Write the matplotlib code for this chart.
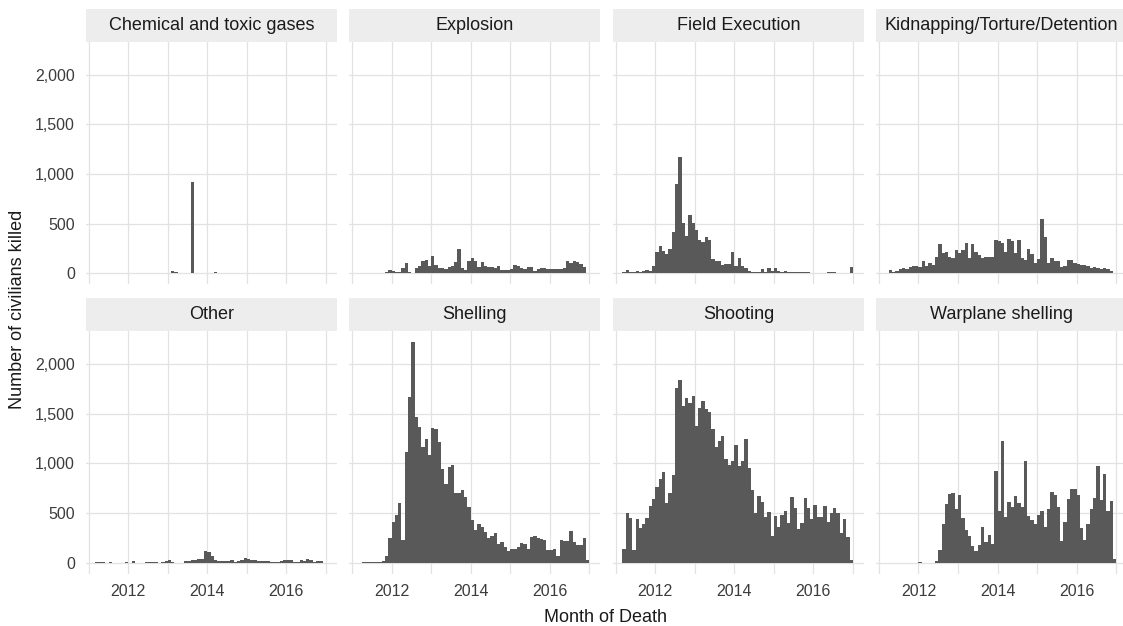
import numpy as np
import pandas as pd
import matplotlib
matplotlib.use('Agg')
import matplotlib.pyplot as plt
from matplotlib.ticker import FuncFormatter, FixedLocator

plt.rcParams['font.family'] = ['Liberation Sans', 'DejaVu Sans']

# monthly civilian deaths, Mar 2011 .. Dec 2016 (70 months)
months = pd.date_range('2011-03-01', periods=70, freq='MS')

chemical = [0, 0, 0, 0, 0, 0, 0, 0, 0, 0,
            0, 0, 0, 0, 0, 0, 0, 0, 0, 0,
            3, 0, 0, 27, 10, 5, 5, 0, 0, 915,
            3, 0, 0, 3, 0, 0, 15, 3, 0, 0,
            5, 5, 0, 3, 5, 3, 0, 0, 3, 0,
            0, 0, 0, 3, 3, 0, 3, 0, 3, 3,
            3, 0, 3, 0, 0, 0, 0, 0, 0, 0]

explosion = [2, 3, 2, 3, 2, 3, 2, 3, 13, 30,
             20, 10, 17, 54, 107, 17, 7, 50, 70, 120,
             137, 74, 177, 80, 57, 57, 40, 60, 74, 110,
             248, 50, 33, 120, 157, 127, 60, 114, 70, 67,
             67, 50, 74, 37, 37, 33, 40, 87, 77, 50,
             40, 64, 60, 20, 40, 57, 57, 40, 44, 47,
             47, 47, 54, 127, 104, 120, 110, 94, 64, 5]

field_execution = [10, 34, 10, 17, 23, 17, 27, 37, 27, 74,
                   211, 272, 221, 191, 245, 416, 896, 1175, 503, 372,
                   587, 503, 436, 339, 312, 362, 339, 141, 128, 128,
                   84, 91, 91, 215, 74, 154, 70, 50, 27, 17,
                   17, 17, 44, 17, 57, 27, 54, 27, 13, 23,
                   10, 13, 13, 13, 10, 13, 17, 7, 7, 7,
                   3, 7, 10, 10, 10, 7, 7, 3, 3, 64]

kidnapping = [3, 33, 13, 23, 47, 57, 44, 64, 77, 74,
              64, 127, 74, 104, 84, 164, 295, 201, 218, 167,
              157, 238, 208, 238, 305, 151, 298, 218, 187, 154,
              164, 164, 164, 331, 321, 305, 218, 348, 328, 208,
              338, 151, 137, 241, 191, 104, 144, 542, 365, 107,
              151, 120, 127, 60, 77, 131, 137, 100, 90, 84,
              80, 74, 54, 64, 54, 40, 50, 40, 20, 0]

other = [3, 3, 3, 0, 10, 0, 0, 0, 0, 5,
         0, 17, 0, 0, 0, 5, 5, 5, 5, 0,
         10, 15, 24, 5, 0, 0, 0, 20, 14, 24,
         30, 34, 34, 116, 112, 71, 27, 20, 20, 17,
         14, 24, 10, 14, 30, 51, 34, 27, 24, 17,
         17, 14, 17, 7, 10, 10, 14, 27, 27, 24,
         7, 10, 24, 14, 34, 27, 10, 14, 14, 0]

shelling = [0, 5, 3, 8, 5, 8, 12, 15, 71, 246,
            414, 481, 606, 226, 1111, 1673, 2220, 1465, 1367, 1162,
            1242, 1081, 1354, 1343, 1219, 943, 798, 963, 980, 707,
            707, 734, 663, 559, 428, 333, 391, 360, 310, 246,
            269, 303, 185, 212, 155, 118, 135, 141, 155, 202,
            189, 135, 259, 269, 253, 239, 226, 131, 131, 135,
            71, 226, 215, 219, 316, 212, 178, 178, 249, 30]

shooting = [140, 505, 450, 128, 438, 350, 394, 451, 572, 640,
            768, 845, 919, 603, 707, 879, 1758, 1838, 1582, 1663,
            1609, 1677, 1380, 1556, 1633, 1545, 1515, 1350, 1162, 1226,
            1276, 1050, 980, 1020, 1182, 976, 1020, 1250, 956, 737,
            502, 673, 610, 461, 512, 269, 471, 360, 478, 518,
            404, 660, 552, 340, 400, 657, 552, 441, 586, 465,
            465, 569, 414, 502, 552, 498, 296, 438, 263, 24]

warplane = [0, 0, 0, 0, 0, 0, 0, 0, 0, 0,
            3, 0, 2, 0, 0, 13, 128, 394, 589, 697,
            707, 542, 687, 451, 327, 269, 165, 118, 178, 364,
            212, 279, 192, 923, 522, 1222, 461, 616, 566, 673,
            606, 566, 1020, 475, 434, 391, 481, 518, 360, 542,
            717, 680, 565, 215, 411, 646, 744, 747, 683, 350,
            229, 391, 542, 657, 970, 633, 889, 525, 626, 34]

titles = ['Chemical and toxic gases', 'Explosion', 'Field Execution',
          'Kidnapping/Torture/Detention', 'Other', 'Shelling', 'Shooting',
          'Warplane shelling']
series = [chemical, explosion, field_execution, kidnapping,
          other, shelling, shooting, warplane]

x = months.year + (months.month - 1) / 12.0

W, H = 1123, 626
fig = plt.figure(figsize=(W / 100, H / 100), dpi=100)
fig.patch.set_facecolor('white')

col_left = [86, 349.3, 613, 876.2]
row_top = [41.8, 331.3]
pw, ph, sh = 251, 242.5, 33.3

bar_col = '#595959'
grid_col = '#e2e2e2'
txt_col = '#3c3c3c'

for k, (title, vals) in enumerate(zip(titles, series)):
    r, c = divmod(k, 4)
    l, t = col_left[c], row_top[r]
    ax = fig.add_axes([l / W, 1 - (t + ph) / H, pw / W, ph / H])
    ax.bar(x, vals, width=1 / 12, align='edge', color=bar_col, linewidth=0, zorder=2)
    ax.set_xlim(2010.93, 2017.28)
    ax.set_ylim(-111, 2331)
    ax.xaxis.set_major_locator(FixedLocator([2012, 2014, 2016]))
    ax.xaxis.set_minor_locator(FixedLocator([2011, 2013, 2015, 2017]))
    ax.yaxis.set_major_locator(FixedLocator([0, 500, 1000, 1500, 2000]))
    ax.yaxis.set_major_formatter(FuncFormatter(lambda v, p: '{:,.0f}'.format(v)))
    ax.grid(which='both', color=grid_col, linewidth=0.9, zorder=0)
    ax.set_axisbelow(True)
    for s in ax.spines.values():
        s.set_visible(False)
    ax.tick_params(which='both', length=0, labelsize=11.5, labelcolor=txt_col)
    ax.tick_params(axis='y', pad=8)
    ax.tick_params(axis='x', pad=7.5)
    if c != 0:
        ax.set_yticklabels([])
    if r != 1:
        ax.set_xticklabels([])

    # facet strip
    sax = fig.add_axes([l / W, 1 - t / H, pw / W, sh / H])
    sax.set_facecolor('#ededed')
    sax.set_xticks([])
    sax.set_yticks([])
    for s in sax.spines.values():
        s.set_visible(False)
    sax.text(0.5, 0.5, title, ha='center', va='center', fontsize=13,
             color='#1a1a1a', transform=sax.transAxes)

fig.text(606 / W, 1 - 618 / H, 'Month of Death', ha='center', va='center',
         fontsize=13, color='#1a1a1a')
fig.text(17.5 / W, 1 - 309 / H, 'Number of civilians killed', ha='center',
         va='center', rotation=90, fontsize=13, color='#1a1a1a')

fig.savefig('out.png', dpi=100, facecolor='white')
